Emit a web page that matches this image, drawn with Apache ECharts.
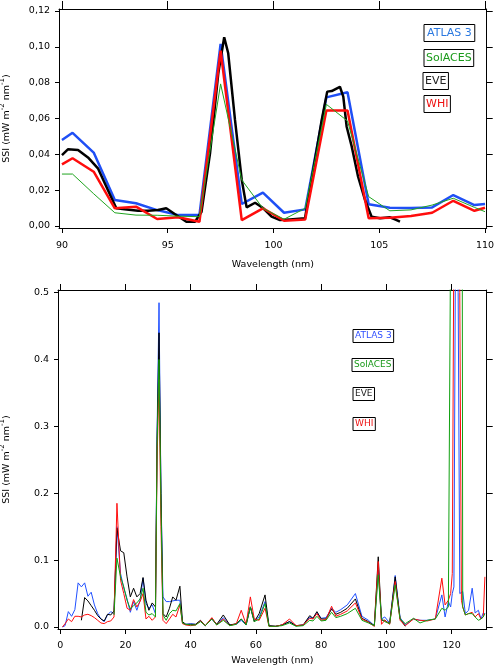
<!DOCTYPE html>
<html>
<head>
<meta charset="utf-8">
<script src="https://cdn.jsdelivr.net/npm/echarts@6/dist/echarts.min.js"></script>
<style>html,body{margin:0;padding:0;background:#fff;}#c{width:496px;height:668px;}</style>
</head>
<body>
<div id="c"></div>
<script>
// ---------- Top panel (90-110 nm) ----------
const topWl = [90, 90.5, 91.5, 92.5, 93.5, 94.5, 95.5, 96.5, 97.5, 98.5, 99.5, 100.5, 101.5, 102.5, 103.5, 104.5, 105.5, 106.5, 107.5, 108.5, 109.5, 110];
const atlasTop = [0.048, 0.052, 0.041, 0.0145, 0.0127, 0.0089, 0.0061, 0.0062, 0.1016, 0.0123, 0.0186, 0.0074, 0.0093, 0.0718, 0.0746, 0.0121, 0.0102, 0.0100, 0.0104, 0.0173, 0.0117, 0.0123];
const solacesTop = [0.029, 0.029, 0.018, 0.0074, 0.0061, 0.006, 0.0055, 0.0052, 0.0793, 0.0257, 0.0099, 0.0038, 0.0099, 0.0679, 0.0586, 0.0164, 0.0085, 0.009, 0.0117, 0.0155, 0.0104, 0.008];
const whiTop = [0.0344, 0.0378, 0.0303, 0.0099, 0.0108, 0.0039, 0.0049, 0.0024, 0.0979, 0.0033, 0.0099, 0.003, 0.0037, 0.0644, 0.0644, 0.0043, 0.0046, 0.0056, 0.0074, 0.0141, 0.0085, 0.0102];
const eveTopWl = [90.0, 90.28, 90.76, 91.23, 91.7, 92.17, 92.57, 92.96, 93.6, 94.07, 94.54, 94.93, 95.33, 95.88, 96.29, 96.6, 97.0, 97.39, 97.67, 97.86, 98.18, 98.5, 98.73, 99.13, 99.52, 99.91, 100.31, 100.78, 101.49, 101.88, 102.28, 102.54, 102.75, 102.91, 103.14, 103.3, 103.46, 103.7, 104.0, 104.33, 104.64, 105.04, 105.5, 105.74, 105.98];
const eveTop = [0.0396, 0.0428, 0.0424, 0.0383, 0.0322, 0.0201, 0.0099, 0.0093, 0.0085, 0.0085, 0.0089, 0.0099, 0.0067, 0.0024, 0.0024, 0.008, 0.0406, 0.0852, 0.1053, 0.0964, 0.0592, 0.0257, 0.0104, 0.013, 0.0099, 0.0052, 0.0033, 0.0037, 0.0043, 0.0313, 0.0592, 0.075, 0.0753, 0.0763, 0.0777, 0.0722, 0.0554, 0.0443, 0.0275, 0.0145, 0.0052, 0.0043, 0.0049, 0.0037, 0.0024];
const topXTicks = [90, 95, 100, 105, 110];
const topYTicks = [0, 0.02, 0.04, 0.06, 0.08, 0.10, 0.12];

// ---------- Bottom panel (0-130 nm) ----------
const fullWl = [0.7,1.5,2.5,3.5,4.5,5.5,6.5,7.5,8.5,9.5,
  10.5,11.5,12.5,13.5,14.5,15.5,16.5,17.4,18.5,19.5,
  20.5,21.5,22.5,23.5,24.5,25.4,26.3,27.2,28.2,29.2,
  29.7,30.3,30.9,31.5,32.5,33.5,34.5,35.5,36.7,37.5,
  38.5,40,41.5,43,44.5,46.5,48,50,52,54,
  55.5,57,58.3,59.5,61,62.8,64,66,68,70.3,
  72.3,74.5,76.5,77.5,78.7,80,81.5,83.2,84.5,86,
  88,90.5,92.5,94.5,96.3,97.5,98.5,99.5,101,102.7,
  104.2,105.8,108.3,110.3,112.5,115,117,118,119,119.7,
  120.2,120.7,121.2,121.6,122,122.5,123,123.4,124.2,125.2,
  126.3,127.2,128.2,129,129.7,130.2];
const atlasFull = [0, 0.002, 0.023, 0.016, 0.026, 0.066, 0.060, 0.066, 0.046, 0.052,
  0.033, 0.020, 0.012, 0.008, 0.018, 0.023, 0.020, 0.150, 0.080, 0.058,
  0.042, 0.022, 0.038, 0.025, 0.040, 0.073, 0.035, 0.028, 0.033, 0.020,
  0.290, 0.485, 0.200, 0.045, 0.038, 0.038, 0.039, 0.040, 0.040, 0.006,
  0.004, 0.005, 0.004, 0.009, 0.002, 0.012, 0.003, 0.014, 0.003, 0.004,
  0.010, 0.003, 0.030, 0.010, 0.015, 0.038, 0.002, 0.001, 0.003, 0.008,
  0.002, 0.003, 0.015, 0.013, 0.022, 0.013, 0.014, 0.028, 0.022, 0.026,
  0.033, 0.050, 0.016, 0.010, 0.002, 0.085, 0.012, 0.015, 0.006, 0.077,
  0.014, 0.003, 0.012, 0.010, 0.010, 0.012, 0.048, 0.015, 0.038, 0.030,
  0.050, 0.060, 0.600, 5.0, 0.500, 0.050, 0.050, 0.053, 0.020, 0.025,
  0.058, 0.021, 0.025, 0.012, 0.021, 0.020];
const eveFull = [null, null, null, null, null, null, 0.010, 0.044, 0.039, 0.032,
  0.025, 0.017, 0.012, 0.009, 0.019, 0.018, 0.024, 0.148, 0.114, 0.111,
  0.075, 0.045, 0.058, 0.045, 0.050, 0.074, 0.040, 0.025, 0.036, 0.030,
  0.280, 0.440, 0.200, 0.020, 0.015, 0.028, 0.045, 0.040, 0.061, 0.008,
  0.004, 0.004, 0.004, 0.010, 0.002, 0.013, 0.004, 0.018, 0.003, 0.005,
  0.012, 0.004, 0.030, 0.008, 0.020, 0.048, 0.002, 0.001, 0.003, 0.008,
  0.002, 0.003, 0.017, 0.013, 0.023, 0.012, 0.012, 0.027, 0.019, 0.022,
  0.028, 0.042, 0.013, 0.008, 0.002, 0.105, 0.010, 0.010, 0.005, 0.075,
  0.012, 0.001, null, null, null, null, null, null, null, null,
  null, null, null, null, null, null, null, null, null, null,
  null, null, null, null, null, null];
const whiFull = [0, 0.005, 0.012, 0.008, 0.016, 0.016, 0.015, 0.018, 0.019, 0.017,
  0.014, 0.010, 0.006, 0.005, 0.008, 0.009, 0.015, 0.185, 0.070, 0.050,
  0.028, 0.025, 0.041, 0.030, 0.038, 0.050, 0.012, 0.016, 0.010, 0.015,
  0.250, 0.370, 0.150, 0.010, 0.005, 0.012, 0.019, 0.015, 0.033, 0.005,
  0.003, 0.002, 0.003, 0.009, 0.002, 0.014, 0.003, 0.012, 0.002, 0.005,
  0.025, 0.004, 0.045, 0.012, 0.010, 0.028, 0.001, 0.001, 0.003, 0.012,
  0.002, 0.003, 0.013, 0.012, 0.020, 0.010, 0.011, 0.031, 0.016, 0.019,
  0.024, 0.036, 0.012, 0.007, 0.001, 0.098, 0.004, 0.010, 0.004, 0.068,
  0.010, 0.002, 0.012, 0.010, 0.009, 0.012, 0.073, 0.033, 0.040, 0.050,
  0.080, 0.600, 5.0, 6.0, 3.0, 0.500, 0.040, 0.030, 0.018, 0.020,
  0.022, 0.015, 0.020, 0.012, 0.015, 0.075];
const solacesFull = [null, null, null, null, null, null, null, null, null, null,
  null, null, null, null, null, null, 0.018, 0.103, 0.075, 0.060,
  0.040, 0.027, 0.032, 0.036, 0.042, 0.058, 0.022, 0.018, 0.020, 0.015,
  0.270, 0.400, 0.180, 0.018, 0.010, 0.020, 0.025, 0.024, 0.035, 0.006,
  0.004, 0.003, 0.003, 0.008, 0.002, 0.012, 0.003, 0.010, 0.002, 0.004,
  0.012, 0.003, 0.030, 0.008, 0.012, 0.035, 0.001, 0.001, 0.002, 0.006,
  0.001, 0.002, 0.010, 0.009, 0.016, 0.009, 0.010, 0.022, 0.014, 0.016,
  0.020, 0.028, 0.010, 0.006, 0.002, 0.078, 0.012, 0.008, 0.005, 0.063,
  0.012, 0.005, 0.013, 0.006, 0.010, 0.012, 0.028, 0.025, 0.030, 0.600,
  3.0, 4.0, 5.0, 6.0, 5.0, 3.0, 1.5, 0.030, 0.018, 0.020,
  0.020, 0.015, 0.010, 0.012, 0.015, 0.020];
const fullXTicks = [0, 20, 40, 60, 80, 100, 120];
const fullYTicks = [0, 0.1, 0.2, 0.3, 0.4, 0.5];

const seriesNames = ['ATLAS 3', 'SolACES', 'EVE', 'WHI'];

const FONT = 'DejaVu Sans';
const C_BLUE = '#1f4ff5', C_GREEN = '#1fa51f', C_BLACK = '#000000', C_RED = '#ff0d0d';

function pairs(xs, ys) { return xs.map((x, i) => [x, ys[i] == null ? '-' : ys[i]]); }

function axisBase(extra) {
  return Object.assign({
    type: 'value',
    axisLine: { show: true, onZero: false, lineStyle: { color: '#000', width: 1 } },
    splitLine: { show: false },
    axisTick: { show: true, inside: false, length: 5, lineStyle: { color: '#000', width: 1 } },
    axisLabel: { color: '#000', fontFamily: FONT, fontSize: 9.5 }
  }, extra);
}

function yName(gap) {
  return {
    name: '{n|SSI (mW m}{s|-2}{n| nm}{s|-1}{n|)}',
    nameLocation: 'middle',
    nameGap: gap,
    nameTextStyle: {
      rich: {
        n: { fontFamily: FONT, fontSize: 9.5, color: '#000', lineHeight: 16 },
        s: { fontFamily: FONT, fontSize: 7, color: '#000', verticalAlign: 'top' }
      }
    }
  };
}

const topX = { min: 89.86, max: 110.08 };
const topY = { min: -0.0011, max: 0.1211 };
const botX = { min: -0.67, max: 130.75 };
const botY = { min: -0.003, max: 0.504 };

const xAxes = [
  axisBase(Object.assign({ gridIndex: 0, position: 'bottom',
    axisTick: { show: true, inside: false, length: 5, lineStyle: { color: '#000' }, customValues: topXTicks },
    axisLabel: { color: '#000', fontFamily: FONT, fontSize: 9.5, margin: 13, customValues: topXTicks },
    name: 'Wavelength (nm)', nameLocation: 'middle', nameGap: 32,
    nameTextStyle: { fontFamily: FONT, fontSize: 9.5, color: '#000' } }, topX)),
  axisBase(Object.assign({ gridIndex: 0, position: 'top',
    axisTick: { show: true, inside: false, length: 8, lineStyle: { color: '#000' }, customValues: topXTicks },
    axisLabel: { show: false, customValues: topXTicks } }, topX)),
  axisBase(Object.assign({ gridIndex: 1, position: 'bottom',
    axisTick: { show: true, inside: false, length: 5, lineStyle: { color: '#000' }, customValues: fullXTicks },
    axisLabel: { color: '#000', fontFamily: FONT, fontSize: 9.5, margin: 12, customValues: fullXTicks },
    name: 'Wavelength (nm)', nameLocation: 'middle', nameGap: 27,
    nameTextStyle: { fontFamily: FONT, fontSize: 9.5, color: '#000' } }, botX)),
  axisBase(Object.assign({ gridIndex: 1, position: 'top',
    axisTick: { show: true, inside: false, length: 6, lineStyle: { color: '#000' }, customValues: fullXTicks },
    axisLabel: { show: false, customValues: fullXTicks } }, botX))
];

const yAxes = [
  axisBase(Object.assign({ gridIndex: 0, position: 'left',
    axisTick: { show: true, inside: false, length: 4, lineStyle: { color: '#000' }, customValues: topYTicks },
    axisLabel: { color: '#000', fontFamily: FONT, fontSize: 9.5, margin: 9, customValues: topYTicks,
      formatter: v => v.toFixed(2).replace('.', ',') } }, topY, yName(44))),
  axisBase(Object.assign({ gridIndex: 0, position: 'right',
    axisTick: { show: true, inside: false, length: 6, lineStyle: { color: '#000' }, customValues: topYTicks },
    axisLabel: { show: false, customValues: topYTicks } }, topY)),
  axisBase(Object.assign({ gridIndex: 1, position: 'left',
    axisTick: { show: true, inside: false, length: 4, lineStyle: { color: '#000' }, customValues: fullYTicks },
    axisLabel: { color: '#000', fontFamily: FONT, fontSize: 9.5, margin: 9, customValues: fullYTicks,
      formatter: v => v.toFixed(1) } }, botY, yName(43))),
  axisBase(Object.assign({ gridIndex: 1, position: 'right',
    axisTick: { show: true, inside: false, length: 6, lineStyle: { color: '#000' }, customValues: fullYTicks },
    axisLabel: { show: false, customValues: fullYTicks } }, botY))
];

function line(name, data, color, width, xi, yi, z) {
  return { type: 'line', name: name, data: data, xAxisIndex: xi, yAxisIndex: yi,
    showSymbol: false, symbol: 'none', clip: true, z: z,
    lineStyle: { color: color, width: width }, itemStyle: { color: color } };
}

const series = [
  line('ATLAS 3', pairs(topWl, atlasTop), C_BLUE, 2.5, 0, 0, 2),
  line('EVE', pairs(eveTopWl, eveTop), C_BLACK, 2.5, 0, 0, 3),
  line('WHI', pairs(topWl, whiTop), C_RED, 2.5, 0, 0, 4),
  line('SolACES', pairs(topWl, solacesTop), C_GREEN, 1, 0, 0, 5),
  line('ATLAS 3', pairs(fullWl, atlasFull), '#2050ff', 1, 2, 2, 2),
  line('EVE', pairs(fullWl, eveFull), C_BLACK, 1, 2, 2, 3),
  line('WHI', pairs(fullWl, whiFull), C_RED, 1, 2, 2, 4),
  line('SolACES', pairs(fullWl, solacesFull), '#10a010', 1, 2, 2, 5)
];

function legendBox(name, left, top, color, fs, pad) {
  return { data: [name], left: left, top: top, icon: 'none', itemWidth: 0, itemGap: 0, padding: 0,
    selectedMode: false, orient: 'vertical',
    textStyle: { color: color, fontSize: fs, fontFamily: FONT, borderColor: '#000', borderWidth: 1, padding: pad } };
}

const legends = [
  legendBox('ATLAS 3', 419, 24, '#2a78e0', 11, [3, 3]),
  legendBox('SolACES', 419, 49, '#1a9a1a', 11, [3, 2]),
  legendBox('EVE', 418, 72, '#222222', 11, [3, 2]),
  legendBox('WHI', 419, 95, '#ee1111', 11, [3, 2]),
  legendBox('ATLAS 3', 348, 329, '#3050ff', 9, [2, 2]),
  legendBox('SolACES', 347, 358, '#1a9a1a', 9, [2, 2]),
  legendBox('EVE', 348, 387, '#222222', 9, [2, 2]),
  legendBox('WHI', 348, 417, '#ee1111', 9, [2, 2])
];

const chart = echarts.init(document.getElementById('c'), null, { renderer: 'canvas' });
chart.setOption({
  animation: false,
  backgroundColor: '#fff',
  grid: [
    { left: 59, right: 9.3, top: 9, height: 219, containLabel: false, outerBoundsMode: 'none' },
    { left: 58, right: 9.3, top: 290, height: 339, containLabel: false, outerBoundsMode: 'none' }
  ],
  xAxis: xAxes,
  yAxis: yAxes,
  legend: legends,
  series: series
});
</script>
</body>
</html>
